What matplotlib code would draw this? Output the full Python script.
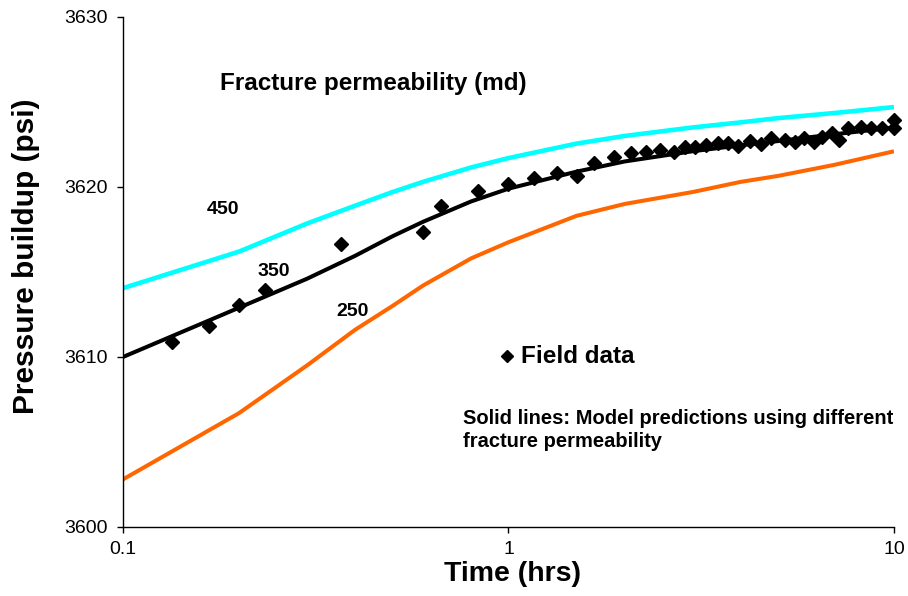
import matplotlib
matplotlib.use("Agg")
import matplotlib.pyplot as plt

plt.rcParams['font.family'] = ['Liberation Sans', 'DejaVu Sans']

# Model predictions (fracture permeability, md)
model_time = [0.1, 0.2, 0.3, 0.4, 0.5, 0.6, 0.8, 1.0, 1.5, 2.0, 3.0, 4.0, 5.0, 7.0, 10.0]
p_450 = [3614.05, 3616.2, 3617.85, 3618.9, 3619.7, 3620.3, 3621.15, 3621.7,
         3622.55, 3623.0, 3623.5, 3623.8, 3624.05, 3624.35, 3624.7]
p_350 = [3610.0, 3612.9, 3614.6, 3615.95, 3617.1, 3617.95, 3619.15, 3619.9,
         3620.9, 3621.5, 3622.1, 3622.45, 3622.7, 3623.1, 3623.5]
p_250 = [3602.8, 3606.7, 3609.5, 3611.6, 3613.0, 3614.2, 3615.8, 3616.75,
         3618.3, 3619.0, 3619.7, 3620.3, 3620.65, 3621.3, 3622.1]

# Field data
field_time = [0.134, 0.167, 0.200, 0.234, 0.368, 0.599, 0.668, 0.835, 1.0, 1.166,
              1.339, 1.507, 1.669, 1.878, 2.08, 2.27, 2.47, 2.68, 2.87, 3.05,
              3.26, 3.49, 3.71, 3.94, 4.22, 4.52, 4.80, 5.21, 5.53, 5.83,
              6.2, 6.5, 6.9, 7.2, 7.6, 8.2, 8.7, 9.3, 9.98, 10.0]
field_p = [3610.9, 3611.82, 3613.06, 3613.94, 3616.65, 3617.37, 3618.88, 3619.78, 3620.18, 3620.55,
           3620.8, 3620.65, 3621.4, 3621.78, 3622.02, 3622.08, 3622.18, 3622.08, 3622.37, 3622.37,
           3622.47, 3622.57, 3622.57, 3622.43, 3622.7, 3622.5, 3622.9, 3622.76, 3622.66, 3622.86,
           3622.66, 3622.96, 3623.2, 3622.76, 3623.45, 3623.55, 3623.45, 3623.45, 3623.94, 3623.45]

x_ticks = [0.1, 1, 10]
x_tick_labels = ['0.1', '1', '10']
y_ticks = [3600, 3610, 3620, 3630]

fig = plt.figure(figsize=(9.08, 5.96), dpi=100)
ax = fig.add_axes([0.1355, 0.1158, 0.849, 0.8557])

ax.plot(model_time, p_450, color='#00FFFF', lw=3.3, solid_capstyle='butt', zorder=2)
ax.plot(model_time, p_250, color='#FF6600', lw=2.9, solid_capstyle='butt', zorder=2)
ax.plot(model_time, p_350, color='black', lw=2.9, solid_capstyle='butt', zorder=3)
ax.plot(field_time, field_p, linestyle='none', marker='D', markersize=7,
        color='black', zorder=4, clip_on=False)

ax.set_xscale('log')
ax.set_xlim(0.1, 10)
ax.set_ylim(3600, 3630)
ax.set_xticks(x_ticks)
ax.set_xticklabels(x_tick_labels)
ax.xaxis.set_minor_locator(matplotlib.ticker.NullLocator())
ax.set_yticks(y_ticks)
ax.tick_params(axis='both', labelsize=14, direction='out', length=4, width=1)
ax.tick_params(axis='y', pad=7)
ax.tick_params(axis='x', pad=6)
for s in ['top', 'right']:
    ax.spines[s].set_visible(False)
for s in ['left', 'bottom']:
    ax.spines[s].set_linewidth(1)

ax.set_xlabel('Time (hrs)', fontsize=20.5, fontweight='bold')
ax.xaxis.set_label_coords(0.505, -0.066)
ax.set_ylabel('Pressure buildup (psi)', fontsize=21.5, fontweight='bold')
ax.yaxis.set_label_coords(-0.1077, 0.531)

ax.text(0.1786, 3626.06, 'Fracture permeability (md)',
        fontsize=17.5, fontweight='bold', ha='left', va='center')
ax.text(0.1653, 3618.65, '450', fontsize=14, fontweight='bold', ha='left', va='center')
ax.text(0.2239, 3615.0, '350', fontsize=14, fontweight='bold', ha='left', va='center')
ax.text(0.357, 3612.7, '250', fontsize=14, fontweight='bold', ha='left', va='center')

ax.plot([0.991], [3610.05], linestyle='none', marker='D', markersize=6.5, color='black', zorder=4)
ax.text(1.078, 3610.05, 'Field data', fontsize=17.5, fontweight='bold', ha='left', va='center')

ax.text(0.762, 3605.7, 'Solid lines: Model predictions using different\nfracture permeability',
        fontsize=14.5, fontweight='bold', ha='left', va='center', linespacing=1.3)

fig.savefig('out.png', dpi=100)
